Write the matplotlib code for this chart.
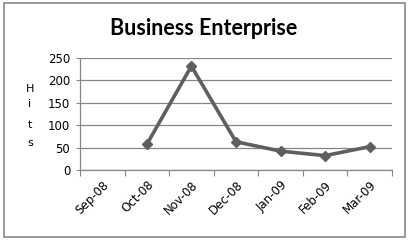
import matplotlib.pyplot as plt
import numpy as np
from matplotlib.patches import Rectangle

# months on the category axis (Sep-08 has no value)
months = ['Sep-08', 'Oct-08', 'Nov-08', 'Dec-08', 'Jan-09', 'Feb-09', 'Mar-09']
hits = [np.nan, 57, 232, 63, 42, 32, 52]
yticks = [0, 50, 100, 150, 200, 250]

fig = plt.figure(figsize=(4.1, 2.4), dpi=100)
ax = fig.add_axes([0.195, 0.292, 0.761, 0.466])

x = np.arange(len(months))
ax.plot(x, hits, color='#5f5f5f', linewidth=2.6, marker='D', markersize=5.5,
        markerfacecolor='#5f5f5f', markeredgecolor='#5f5f5f', zorder=3)

ax.set_xlim(-0.5, len(months) - 0.5)
ax.set_ylim(0, 250)
ax.set_yticks(yticks)
ax.grid(axis='y', color='#868686', linewidth=0.9)
ax.set_axisbelow(True)

# tick marks sit between categories, labels under each category
ax.set_xticks(np.arange(len(months) + 1) - 0.5)
ax.set_xticklabels([])
ax.set_xticks(x, minor=True)
ax.set_xticklabels(months, minor=True, rotation=45, ha='right',
                   rotation_mode='anchor', fontsize=8.5)
ax.tick_params(axis='x', which='minor', length=0, pad=6)
ax.tick_params(axis='x', which='major', length=4, color='#868686', direction='out')
ax.tick_params(axis='y', length=3, color='#868686', labelsize=8.5, pad=4)

for side in ['top', 'right']:
    ax.spines[side].set_visible(False)
for side in ['left', 'bottom']:
    ax.spines[side].set_color('#868686')
    ax.spines[side].set_linewidth(0.9)

# stacked y label
for letter, yy in zip('Hits', [0.63, 0.565, 0.48, 0.405]):
    fig.text(0.073, yy, letter, fontsize=8, ha='center', va='center')

fig.text(0.497, 0.882, 'Business Enterprise', fontsize=15.5, fontweight='bold',
         ha='center', va='center', family='Lato')

fig.patches.append(Rectangle((0.01, 0.012), 0.978, 0.975, transform=fig.transFigure,
                             fill=False, edgecolor='#868686', linewidth=1.2))

plt.savefig('out.png', dpi=100)
